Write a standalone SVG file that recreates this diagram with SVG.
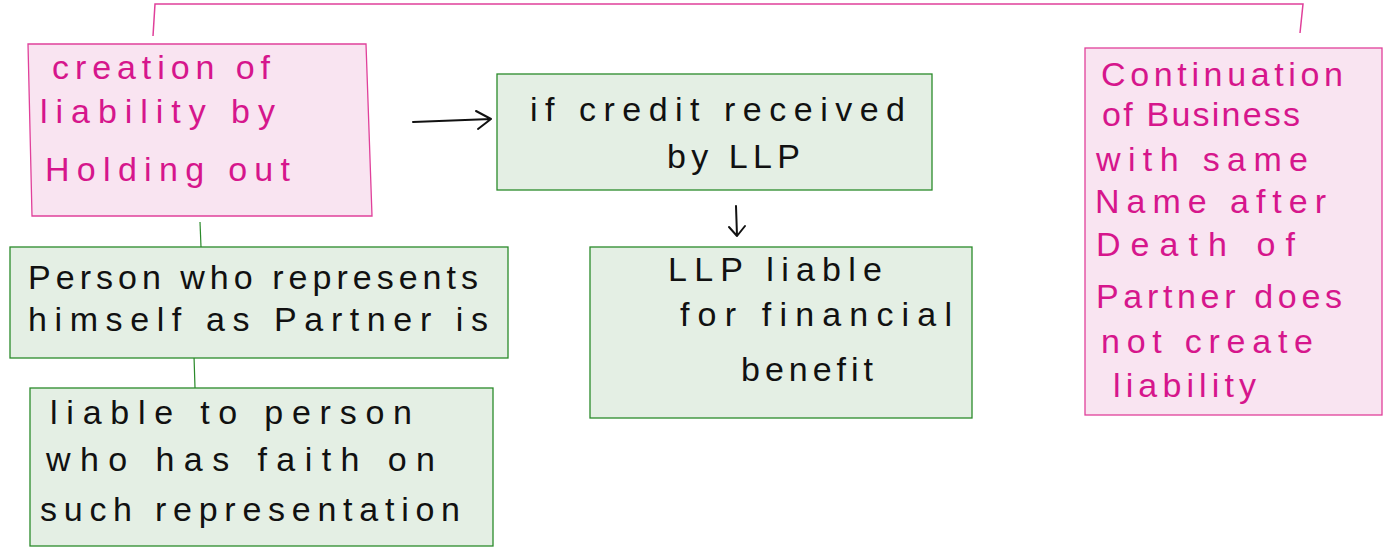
<svg xmlns="http://www.w3.org/2000/svg" width="1383" height="551" viewBox="0 0 1383 551">
<defs>
<style>
.pbox{fill:#f9e4f1;stroke:#e0409a;stroke-width:1.3}
.gbox{fill:#e4efe4;stroke:#2a8a2a;stroke-width:1.3}
.pt{font-family:"Liberation Sans",Arial,sans-serif;font-size:34px;fill:#d6168c}
.bt{font-family:"Liberation Sans",Arial,sans-serif;font-size:34px;fill:#111}
.pl{fill:none;stroke:#e0409a;stroke-width:1.5}
.gl{fill:none;stroke:#2a8a2a;stroke-width:1.2}
.bl{fill:none;stroke:#111;stroke-width:2;stroke-linecap:round;stroke-linejoin:round}
</style>
</defs>
<g id="connectors">
<path class="pl" d="M153,36 L155,4 L1303,4 L1300,33"/>
<path class="gl" d="M200,222 L201,247"/>
<path class="gl" d="M194,356 L195,388"/>
<path class="bl" d="M413,122 L491,119 M476,111 L491,119 L478,129"/>
<path class="bl" d="M736,206 L737,236 M729,227 L737,236 L745,226"/>
</g>
<g id="n1">
<polygon class="pbox" points="28,44 366,44 372,216 32,216"/>
<text class="pt" x="52" y="79" textLength="218" lengthAdjust="spacing">creation of</text>
<text class="pt" x="40" y="123" textLength="235" lengthAdjust="spacing">liability by</text>
<text class="pt" x="45" y="181" textLength="245" lengthAdjust="spacing">Holding out</text>
</g>
<g id="n2">
<rect class="gbox" x="497" y="74" width="435" height="116"/>
<text class="bt" x="530" y="121" textLength="375" lengthAdjust="spacing">if credit received</text>
<text class="bt" x="667" y="168" textLength="133" lengthAdjust="spacing">by LLP</text>
</g>
<g id="n3">
<rect class="gbox" x="590" y="247" width="382" height="171"/>
<text class="bt" x="668" y="281" textLength="214" lengthAdjust="spacing">LLP liable</text>
<text class="bt" x="680" y="326" textLength="272" lengthAdjust="spacing">for financial</text>
<text class="bt" x="741" y="381" textLength="132" lengthAdjust="spacing">benefit</text>
</g>
<g id="n4">
<rect class="gbox" x="10" y="247" width="498" height="111"/>
<text class="bt" x="28" y="289" textLength="450" lengthAdjust="spacing">Person who represents</text>
<text class="bt" x="28" y="331" textLength="460" lengthAdjust="spacing">himself as Partner is</text>
</g>
<g id="n5">
<rect class="gbox" x="30" y="388" width="463" height="158"/>
<text class="bt" x="50" y="424" textLength="362" lengthAdjust="spacing">liable to person</text>
<text class="bt" x="46" y="471" textLength="389" lengthAdjust="spacing">who has faith on</text>
<text class="bt" x="40" y="521" textLength="420" lengthAdjust="spacing">such representation</text>
</g>
<g id="n6">
<rect class="pbox" x="1085" y="48" width="297" height="367"/>
<text class="pt" x="1101" y="86" textLength="242" lengthAdjust="spacing">Continuation</text>
<text class="pt" x="1102" y="126" textLength="198" lengthAdjust="spacing">of Business</text>
<text class="pt" x="1096" y="171" textLength="212" lengthAdjust="spacing">with same</text>
<text class="pt" x="1095" y="213" textLength="231" lengthAdjust="spacing">Name after</text>
<text class="pt" x="1096" y="256" textLength="199" lengthAdjust="spacing">Death of</text>
<text class="pt" x="1096" y="308" textLength="246" lengthAdjust="spacing">Partner does</text>
<text class="pt" x="1101" y="353" textLength="212" lengthAdjust="spacing">not create</text>
<text class="pt" x="1113" y="397" textLength="143" lengthAdjust="spacing">liability</text>
</g>
</svg>
